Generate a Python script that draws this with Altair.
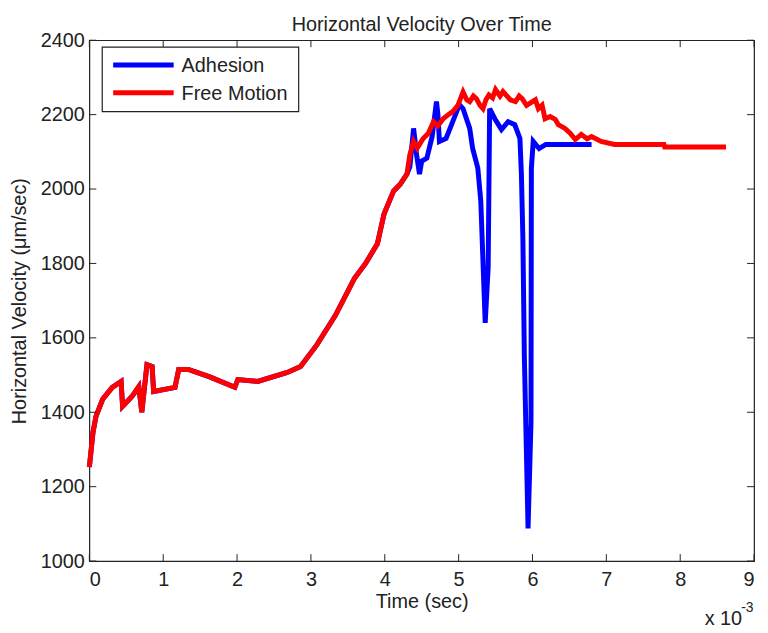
import altair as alt
import pandas as pd

# ---- data (time in ms, i.e. x 10^-3 sec; velocity in um/sec) ----
shared_t = [0.0, 0.05, 0.09, 0.18, 0.31, 0.43, 0.45, 0.58, 0.67, 0.71, 0.78, 0.85, 0.87,
            1.16, 1.21, 1.34, 1.63, 1.97, 2.01, 2.28, 2.68, 2.86, 3.08, 3.33, 3.59,
            3.74, 3.90, 3.99, 4.12, 4.21, 4.30]
shared_v = [1253, 1347, 1389, 1435, 1467, 1483, 1416, 1443, 1469, 1400, 1528, 1523, 1456,
            1467, 1515, 1515, 1495, 1467, 1488, 1483, 1507, 1523, 1581, 1660, 1760,
            1800, 1853, 1933, 1995, 2013, 2040]

free_tail_t = [4.34, 4.39, 4.44, 4.52, 4.59, 4.66, 4.72, 4.79, 4.86, 4.92, 4.99, 5.06, 5.11,
               5.15, 5.20, 5.24, 5.29, 5.33, 5.37, 5.41, 5.46, 5.50, 5.56, 5.60, 5.64,
               5.70, 5.77, 5.82, 5.86, 5.92, 6.00, 6.04, 6.08, 6.13, 6.17, 6.24, 6.31,
               6.35, 6.44, 6.51, 6.58, 6.66, 6.74, 6.80, 6.93, 7.11, 7.78, 7.79, 8.62]
free_tail_v = [2093, 2128, 2110, 2136, 2150, 2181, 2170, 2189, 2200, 2208, 2225, 2261, 2240,
               2235, 2250, 2243, 2225, 2216, 2240, 2253, 2245, 2267, 2250, 2262, 2253,
               2240, 2235, 2250, 2243, 2225, 2235, 2240, 2216, 2225, 2189, 2195, 2187,
               2173, 2163, 2150, 2133, 2147, 2135, 2141, 2128, 2120, 2120, 2113, 2113]

adh_tail_t = [4.34, 4.39, 4.41, 4.43, 4.47, 4.50, 4.57, 4.64, 4.70, 4.72, 4.74, 4.83, 4.92,
              5.01, 5.06, 5.15, 5.19, 5.26, 5.30, 5.36, 5.40, 5.42, 5.49, 5.58, 5.67,
              5.76, 5.83, 5.85, 5.87, 5.89, 5.94, 5.98, 5.985, 6.01, 6.09, 6.18, 6.80]
adh_tail_v = [2060, 2163, 2130, 2093, 2040, 2075, 2083, 2140, 2235, 2200, 2128, 2136, 2181,
              2227, 2216, 2163, 2109, 2056, 1968, 1640, 1789, 2216, 2189, 2160, 2181,
              2173, 2136, 2040, 1869, 1549, 1088, 1373, 2056, 2128, 2109, 2120, 2120]

series_names = ["Adhesion", "Free Motion"]
series_colors = ["#0000ff", "#ff0000"]
x_ticks = [0, 1, 2, 3, 4, 5, 6, 7, 8, 9]
y_ticks = [1000, 1200, 1400, 1600, 1800, 2000, 2200, 2400]
exponent_text = ["x 10", "-3"]

FONT = "Liberation Sans"
W, H = 670, 525

adh = pd.DataFrame({"t": shared_t + adh_tail_t, "v": shared_v + adh_tail_v})
adh["series"] = "Adhesion"
adh["i"] = range(len(adh))
free = pd.DataFrame({"t": shared_t + free_tail_t, "v": shared_v + free_tail_v})
free["series"] = "Free Motion"
free["i"] = range(len(free))

xs = alt.Scale(domain=[0, 9], nice=False, zero=False)
ys = alt.Scale(domain=[1000, 2400], nice=False, zero=False)
cs = alt.Scale(domain=series_names, range=series_colors)

x_axis = alt.Axis(values=x_ticks, format="d", title="Time (sec)", grid=False, domain=False,
                  ticks=False, labelFontSize=20, titleFontSize=20, labelFont=FONT, titleFont=FONT,
                  titleFontWeight="normal", labelPadding=9, titlePadding=2,
                  labelColor="#222", titleColor="#222")
y_axis = alt.Axis(values=y_ticks, format="d", title="Horizontal Velocity (μm/sec)", grid=False,
                  domain=False, ticks=False, labelFontSize=20, titleFontSize=20, labelFont=FONT,
                  titleFont=FONT, titleFontWeight="normal", labelPadding=5, titlePadding=11,
                  labelColor="#222", titleColor="#222")


def line_layer(df):
    return alt.Chart(df).mark_line(strokeWidth=5, strokeJoin="miter", strokeCap="butt").encode(
        x=alt.X("t:Q", scale=xs, axis=x_axis),
        y=alt.Y("v:Q", scale=ys, axis=y_axis),
        color=alt.Color("series:N", scale=cs, legend=None),
        order="i:Q",
    )


blue_layer = line_layer(adh)
red_layer = line_layer(free)

xt = pd.DataFrame({"t": x_ticks})
yt = pd.DataFrame({"v": y_ticks})
tick_bottom = alt.Chart(xt).mark_rule(color="#222", strokeWidth=1).encode(
    x=alt.X("t:Q", scale=xs), y=alt.value(H), y2=alt.value(H - 7))
tick_top = alt.Chart(xt).mark_rule(color="#222", strokeWidth=1).encode(
    x=alt.X("t:Q", scale=xs), y=alt.value(0), y2=alt.value(7))
tick_left = alt.Chart(yt).mark_rule(color="#222", strokeWidth=1).encode(
    y=alt.Y("v:Q", scale=ys), x=alt.value(0), x2=alt.value(7))
tick_right = alt.Chart(yt).mark_rule(color="#222", strokeWidth=1).encode(
    y=alt.Y("v:Q", scale=ys), x=alt.value(W), x2=alt.value(W - 7))

# legend (MATLAB style box)
one = pd.DataFrame({"k": [0]})
leg_box = alt.Chart(one).mark_rect(fill="white", stroke="#222", strokeWidth=1.2).encode(
    x=alt.value(13), x2=alt.value(211), y=alt.value(7), y2=alt.value(72))
leg_layers = [leg_box]
for idx, (name, col) in enumerate(zip(series_names, series_colors)):
    yy = 25 + 28 * idx
    leg_layers.append(alt.Chart(one).mark_rule(color=col, strokeWidth=5).encode(
        x=alt.value(24), x2=alt.value(85), y=alt.value(yy)))
    leg_layers.append(alt.Chart(one).mark_text(
        text=name, font=FONT, fontSize=20, align="left", baseline="middle", color="#222").encode(
        x=alt.value(93), y=alt.value(yy + 1)))

exp_base = alt.Chart(one).mark_text(text=exponent_text[0], font=FONT, fontSize=20, align="right",
                                    baseline="middle", color="#222").encode(
    x=alt.value(658), y=alt.value(583))
exp_sup = alt.Chart(one).mark_text(text=exponent_text[1], font=FONT, fontSize=14, align="left",
                                   baseline="middle", color="#222").encode(
    x=alt.value(657), y=alt.value(572))

chart = alt.layer(
    blue_layer, red_layer, tick_bottom, tick_top, tick_left, tick_right,
    *leg_layers, exp_base, exp_sup
).properties(
    width=W, height=H,
    title=alt.TitleParams("Horizontal Velocity Over Time", font=FONT, fontSize=20,
                          fontWeight="normal", color="#222", offset=-5, frame="group"),
    autosize=alt.AutoSizeParams(type="none"),
    padding={"left": 82, "top": 30, "right": 6, "bottom": 68},
).configure_view(stroke="#222", strokeWidth=1.2)

chart.save("out.html", embed_options={"renderer": "svg", "actions": False})
